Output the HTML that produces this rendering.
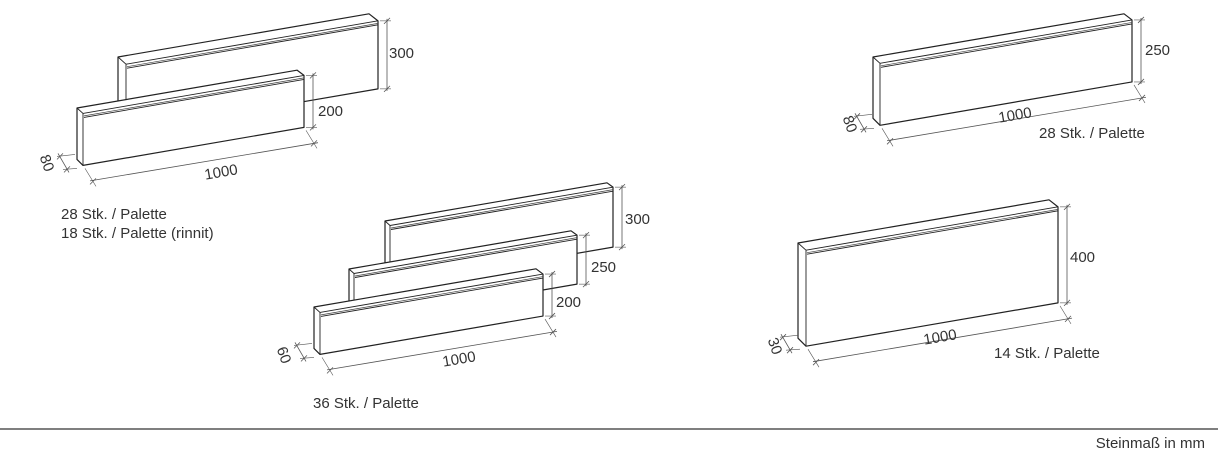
<!DOCTYPE html>
<html><head><meta charset="utf-8">
<style>
html,body{margin:0;padding:0;background:#fff;}
svg{display:block;}
text{font-family:"Liberation Sans",sans-serif;font-size:15px;fill:#333;}
</style></head>
<body>
<svg id="s" width="1218" height="458" viewBox="0 0 1218 458" xmlns="http://www.w3.org/2000/svg">
<g id="g"></g>
<text x="389" y="58">300</text>
<text x="318" y="116">200</text>
<text x="221" y="177" text-anchor="middle" transform="rotate(-9.8 221 172)">1000</text>
<text x="47" y="168" text-anchor="middle" transform="rotate(70 47 163)">80</text>
<text x="61" y="219">28 Stk. / Palette</text>
<text x="61" y="238">18 Stk. / Palette (rinnit)</text>

<text x="625" y="224">300</text>
<text x="591" y="272">250</text>
<text x="556" y="307">200</text>
<text x="459" y="364" text-anchor="middle" transform="rotate(-9.8 459 359)">1000</text>
<text x="284" y="360" text-anchor="middle" transform="rotate(70 284 355)">60</text>
<text x="313" y="408">36 Stk. / Palette</text>

<text x="1145" y="55">250</text>
<text x="1015" y="120" text-anchor="middle" transform="rotate(-9.8 1015 115)">1000</text>
<text x="850" y="129" text-anchor="middle" transform="rotate(70 850 124)">80</text>
<text x="1039" y="138">28 Stk. / Palette</text>

<text x="1070" y="262">400</text>
<text x="940" y="342" text-anchor="middle" transform="rotate(-9.8 940 337)">1000</text>
<text x="775" y="351" text-anchor="middle" transform="rotate(70 775 346)">30</text>
<text x="994" y="358">14 Stk. / Palette</text>

<line x1="0" y1="429" x2="1218" y2="429" stroke="#333" stroke-width="1.2"/>
<text x="1205" y="448" text-anchor="end">Steinmaß in mm</text>
</svg>
<script>
var g=document.getElementById('g');var NS='http://www.w3.org/2000/svg';
function el(t,a){var e=document.createElementNS(NS,t);for(var k in a)e.setAttribute(k,a[k]);g.appendChild(e);return e;}
function ln(x1,y1,x2,y2,w,c){el('line',{x1:x1,y1:y1,x2:x2,y2:y2,stroke:c||'#555','stroke-width':w||0.8});}
function tick(x,y){ln(x-3,y+3,x+3,y-3,0.8);}
var k=-0.172;
function stone(xo,yo,W,h,d,opt){
 var xf=xo+d, yf=yo+d*0.9;
 var trx=xf+W, try_=yf+k*W;
 var pts=[[xo,yo],[xo+W-1,yo+k*(W-1)],[trx,try_],[trx,try_+h],[xf,yf+h],[xo,yf+h-d]];
 el('polygon',{points:pts.map(function(p){return p.join(',')}).join(' '),fill:'#fff',stroke:'#222','stroke-width':1.2,'stroke-linejoin':'round'});
 ln(xo,yo,xf,yf,0.9,'#222');ln(xf,yf,trx,try_,0.9,'#222');ln(xf,yf,xf,yf+h,0.9,'#222');
 ln(xf+1,yf+2.5,trx,try_+2.5,0.7,'#444');ln(xf+1,yf+4,trx,try_+4,0.9,'#222');
 var vx=trx+9;
 ln(vx,try_-2,vx,try_+h+2);tick(vx,try_);tick(vx,try_+h);
 ln(trx+2,try_,vx+4,try_,0.6);ln(trx+2,try_+h,vx+4,try_+h,0.6);
 if(opt&&opt.nob)return;
 var ox=10,oy=16;
 var bx1=xf+ox,by1=yf+h+oy,bx2=trx+ox,by2=try_+h+oy;
 ln(bx1-3,by1-k*(-3),bx2+4,by2+k*4);tick(bx1,by1);tick(bx2,by2);
 ln(xf+2,yf+h+3,bx1+3,by1+5,0.6);ln(trx+2,try_+h+3,bx2+3,by2+5,0.6);
 var ax=xf-23,ay=yf+h-9,cx=xf-16,cy=yf+h+4;
 ln(ax-2,ay-3,cx+2,cy+3);tick(ax,ay);tick(cx,cy);
 ln(ax-3,ay,xf-8,ay-2,0.6);ln(cx-4,cy,xf-6,cy-1,0.6);
}
stone(118,57,252,68,8,{nob:1});
stone(77,108,221,52,6);
stone(385,221,223,60,5,{nob:1});
stone(349,269,223,49,5,{nob:1});
stone(314,307,223,42,6);
stone(873,57,252,62,7);
stone(798,243,252,96,8);
</script>
</body></html>
